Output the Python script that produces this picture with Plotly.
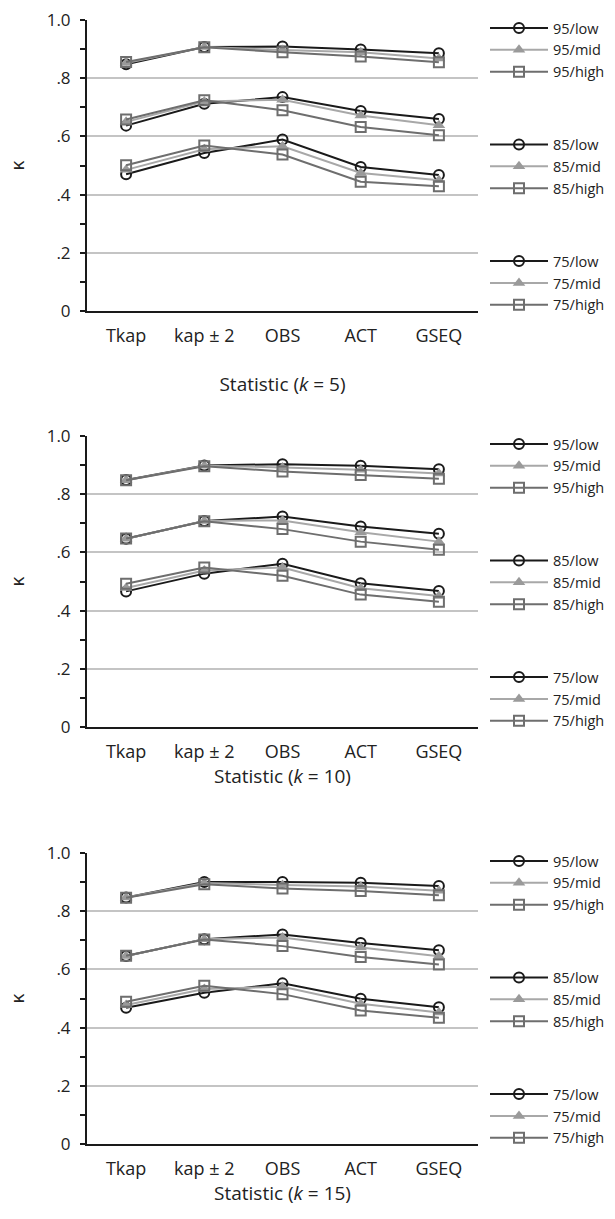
import plotly.graph_objects as go

categories = ["Tkap", "kap ± 2", "OBS", "ACT", "GSEQ"]
k_values = [5, 10, 15]
levels = ["95", "85", "75"]
conditions = ["low", "mid", "high"]

# k = 5
k5_95_low = [0.848, 0.907, 0.909, 0.899, 0.886]
k5_95_mid = [0.852, 0.907, 0.897, 0.889, 0.868]
k5_95_high = [0.856, 0.906, 0.889, 0.875, 0.855]
k5_85_low = [0.637, 0.712, 0.735, 0.687, 0.660]
k5_85_mid = [0.650, 0.720, 0.726, 0.672, 0.638]
k5_85_high = [0.658, 0.724, 0.690, 0.632, 0.604]
k5_75_low = [0.470, 0.543, 0.589, 0.495, 0.467]
k5_75_mid = [0.485, 0.556, 0.566, 0.474, 0.449]
k5_75_high = [0.501, 0.569, 0.538, 0.444, 0.429]

# k = 10
k10_95_low = [0.849, 0.899, 0.903, 0.898, 0.886]
k10_95_mid = [0.848, 0.898, 0.892, 0.884, 0.871]
k10_95_high = [0.848, 0.896, 0.878, 0.866, 0.853]
k10_85_low = [0.647, 0.708, 0.723, 0.689, 0.664]
k10_85_mid = [0.647, 0.708, 0.710, 0.669, 0.637]
k10_85_high = [0.648, 0.707, 0.680, 0.637, 0.609]
k10_75_low = [0.466, 0.527, 0.561, 0.494, 0.467]
k10_75_mid = [0.478, 0.538, 0.548, 0.477, 0.450]
k10_75_high = [0.492, 0.548, 0.520, 0.455, 0.430]

# k = 15
k15_95_low = [0.847, 0.900, 0.900, 0.898, 0.887]
k15_95_mid = [0.847, 0.897, 0.890, 0.885, 0.870]
k15_95_high = [0.846, 0.893, 0.878, 0.869, 0.855]
k15_85_low = [0.646, 0.704, 0.720, 0.691, 0.666]
k15_85_mid = [0.646, 0.704, 0.710, 0.675, 0.645]
k15_85_high = [0.647, 0.703, 0.680, 0.643, 0.617]
k15_75_low = [0.468, 0.520, 0.552, 0.499, 0.470]
k15_75_mid = [0.478, 0.533, 0.540, 0.482, 0.452]
k15_75_high = [0.489, 0.544, 0.515, 0.459, 0.434]

y_tickvals = [0, 0.2, 0.4, 0.6, 0.8, 1.0]
y_ticktext = ["0", ".2", ".4", ".6", ".8", "1.0"]
y_minorvals = [0.1, 0.3, 0.5, 0.7, 0.9]

series = {
    5: {"95": [k5_95_low, k5_95_mid, k5_95_high],
        "85": [k5_85_low, k5_85_mid, k5_85_high],
        "75": [k5_75_low, k5_75_mid, k5_75_high]},
    10: {"95": [k10_95_low, k10_95_mid, k10_95_high],
         "85": [k10_85_low, k10_85_mid, k10_85_high],
         "75": [k10_75_low, k10_75_mid, k10_75_high]},
    15: {"95": [k15_95_low, k15_95_mid, k15_95_high],
         "85": [k15_85_low, k15_85_mid, k15_85_high],
         "75": [k15_75_low, k15_75_mid, k15_75_high]},
}

FONT = "Open Sans"
TXT = "#222222"
W, H = 615, 1219
line_colors = {"low": "#1a1a1a", "mid": "#a8a8a8", "high": "#6e6e6e"}
marker_styles = {
    "low": dict(symbol="circle-open", size=10, color="#1a1a1a", line=dict(width=2, color="#1a1a1a")),
    "mid": dict(symbol="triangle-up", size=11, color="#9a9a9a", line=dict(width=0)),
    "high": dict(symbol="square-open", size=10, color="#6e6e6e", line=dict(width=2, color="#6e6e6e")),
}

# plot areas in pixels (top, bottom)
panels_px = [(20, 311), (436, 727), (853, 1144)]
title_standoffs = [32, 3, 7]
x_left, x_right = 87, 478

fig = go.Figure()
legend_names = ["legend", "legend2", "legend3"]

for i, k in enumerate(k_values):
    ax = "" if i == 0 else str(i + 1)
    for lev in levels:
        for cond, vals in zip(conditions, series[k][lev]):
            fig.add_trace(go.Scatter(
                x=categories, y=vals,
                name=f"{lev}/{cond}",
                mode="lines+markers",
                line=dict(color=line_colors[cond], width=2),
                marker=marker_styles[cond],
                xaxis="x" + ax, yaxis="y" + ax,
                legend=legend_names[i],
                legendgroup=f"k{k}_{lev}",
            ))

layout = dict(
    width=W, height=H,
    margin=dict(l=0, r=0, t=0, b=0, pad=0, autoexpand=False),
    paper_bgcolor="white", plot_bgcolor="white",
    font=dict(family=FONT, size=15, color=TXT),
)

for i, k in enumerate(k_values):
    top, bot = panels_px[i]
    ax = "" if i == 0 else str(i + 1)
    ydom = [1 - bot / H, 1 - top / H]
    layout["xaxis" + ax] = dict(
        domain=[x_left / W, x_right / W],
        anchor="y" + ax,
        type="category",
        range=[-0.5, 4.5],
        showline=True, linecolor="#1a1a1a", linewidth=2,
        ticks="", showgrid=False, zeroline=False,
        automargin=False,
        ticklabelstandoff=7,
        tickfont=dict(family=FONT, size=18, color=TXT),
        title=dict(text=f"Statistic (<i>k</i> = {k})",
                   font=dict(family=FONT, size=19, color=TXT),
                   standoff=title_standoffs[i]),
    )
    layout["yaxis" + ax] = dict(
        domain=ydom,
        anchor="x" + ax,
        range=[0, 1.0],
        tickmode="array", tickvals=y_tickvals, ticktext=y_ticktext,
        ticks="outside", ticklen=5, tickwidth=2, tickcolor="#1a1a1a",
        minor=dict(tickvals=y_minorvals, ticks="outside", ticklen=5,
                   tickwidth=2, tickcolor="#1a1a1a", showgrid=False),
        showline=True, linecolor="#1a1a1a", linewidth=2,
        showgrid=True, gridcolor="#c4c4c4", gridwidth=2,
        zeroline=False,
        automargin=False,
        ticklabelstandoff=6,
        tickfont=dict(family=FONT, size=17, color=TXT),
        title=dict(text="κ", font=dict(family=FONT, size=19, color=TXT),
                   standoff=17),
    )
    layout[legend_names[i]] = dict(
        x=485 / W, xanchor="left",
        y=1 - (top - 8) / H, yanchor="top",
        traceorder="grouped", tracegroupgap=51,
        font=dict(family=FONT, size=14.5, color=TXT),
        bgcolor="rgba(0,0,0,0)",
        itemwidth=58,
    )

fig.update_layout(**layout)
fig.write_html(
    "out.html",
    config={"displayModeBar": False},
    post_script=(
        "document.documentElement.style.margin='0';"
        "document.documentElement.style.padding='0';"
        "document.documentElement.style.overflow='hidden';"
        "document.body.style.margin='0';"
        "document.body.style.padding='0';"
        "document.body.style.overflow='hidden';"
    ),
)
